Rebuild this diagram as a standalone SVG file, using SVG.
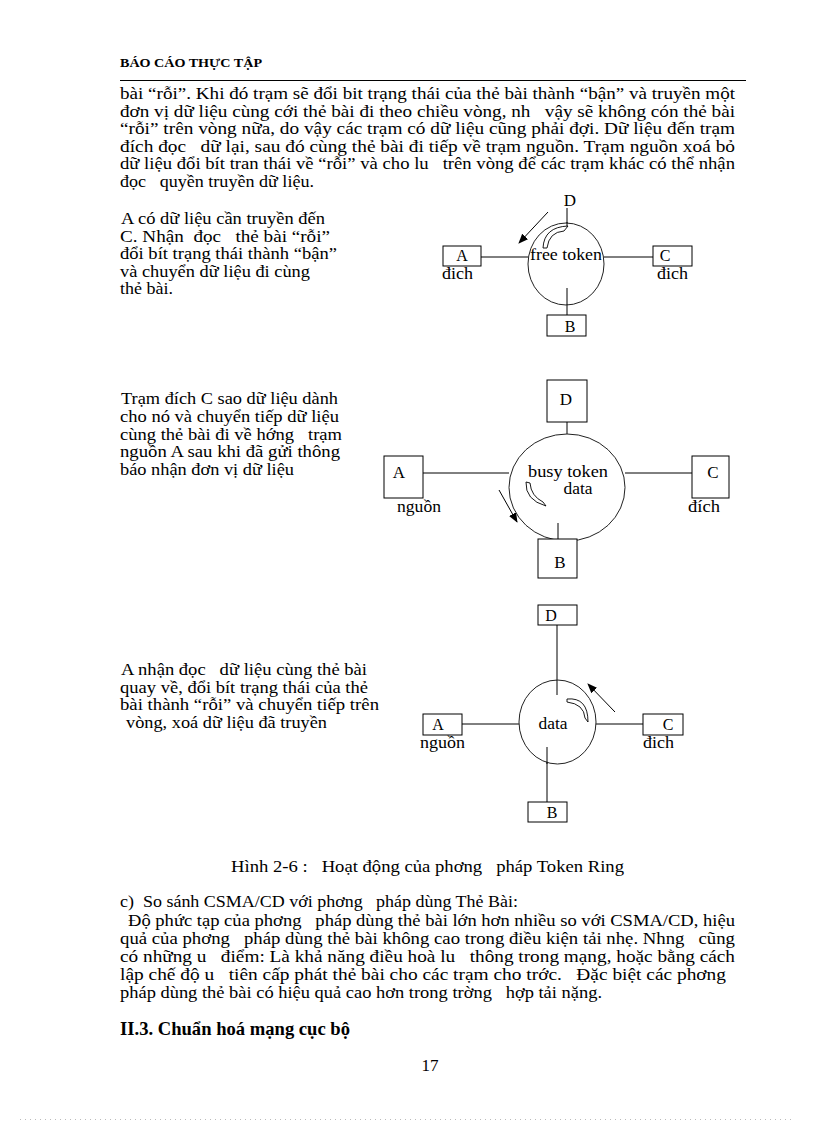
<svg xmlns="http://www.w3.org/2000/svg" width="816" height="1123" viewBox="0 0 816 1123">
<style>
text{font-family:"Liberation Serif","DejaVu Serif",serif;fill:#000;white-space:pre}
.b{font-size:17px}
.l{font-size:17px}
.k{font-size:16px}
.m{text-anchor:middle}
.box{fill:#fff;stroke:#000;stroke-width:1}
.ring{fill:#fff;stroke:#222;stroke-width:1}
.ln{stroke:#000;stroke-width:1;fill:none}
.cres{fill:#fff;stroke:#000;stroke-width:0.9}
</style>
<defs>
<marker id="ah" markerWidth="10" markerHeight="8" refX="9" refY="4" orient="auto" markerUnits="userSpaceOnUse">
<path d="M0,0 L10,4 L0,8 Z" fill="#000"/>
</marker>
</defs>
<rect width="816" height="1123" fill="#fff"/>

<!-- header -->
<text x="120" y="67" font-size="13" font-weight="bold" textLength="142" lengthAdjust="spacingAndGlyphs">BÁO CÁO THỰC TẬP</text>
<line x1="120" y1="80.5" x2="746" y2="80.5" stroke="#000" stroke-width="1"/>

<!-- top paragraph -->
<g class="b">
<text x="120" y="99" textLength="615" lengthAdjust="spacingAndGlyphs">bài “rỗi”. Khi đó trạm sẽ đổi bit trạng thái của thẻ bài thành “bận” và truyền một</text>
<text x="120" y="116.5" textLength="615" lengthAdjust="spacingAndGlyphs">đơn vị dữ liệu cùng cới thẻ bài đi theo chiều vòng, nh   vậy sẽ không cón thẻ bài</text>
<text x="120" y="134" textLength="615" lengthAdjust="spacingAndGlyphs">“rỗi” trên vòng nữa, do vậy các trạm có dữ liệu cũng phải đợi. Dữ liệu đến trạm</text>
<text x="120" y="151.5" textLength="615" lengthAdjust="spacingAndGlyphs">đích đọc   dữ lại, sau đó cùng thẻ bài đi tiếp về trạm nguồn. Trạm nguồn xoá bỏ</text>
<text x="120" y="169" textLength="615" lengthAdjust="spacingAndGlyphs">dữ liệu đổi bít tran thái về “rỗi” và cho lu   trên vòng để các trạm khác có thể nhận</text>
<text x="120" y="186.5" textLength="194" lengthAdjust="spacingAndGlyphs">đọc   quyền truyền dữ liệu.</text>
</g>

<!-- left text block 1 -->
<g class="b">
<text x="121" y="224" textLength="204" lengthAdjust="spacingAndGlyphs">A có dữ liệu cần truyền đến</text>
<text x="120" y="241.5" textLength="210" lengthAdjust="spacingAndGlyphs">C. Nhận  đọc   thẻ bài “rỗi”</text>
<text x="120" y="259" textLength="217" lengthAdjust="spacingAndGlyphs">đổi bít trạng thái thành “bận”</text>
<text x="120" y="276.5" textLength="190" lengthAdjust="spacingAndGlyphs">và chuyển dữ liệu đi cùng</text>
<text x="120" y="294" textLength="53" lengthAdjust="spacingAndGlyphs">thẻ bài.</text>
</g>

<!-- diagram 1 -->
<g id="diagram1">
<g id="d1-connectors">
<line class="ln" x1="481" y1="257" x2="528" y2="257"/>
<line class="ln" x1="604" y1="257" x2="653" y2="257"/>
<line class="ln" x1="567" y1="208" x2="567" y2="226"/>
<line class="ln" x1="567" y1="288" x2="567" y2="315"/>
<line class="ln" x1="548" y1="212" x2="519" y2="243" marker-end="url(#ah)"/>
</g>
<g id="d1-ring">
<ellipse class="ring" cx="566" cy="264" rx="38" ry="41"/>
<line class="ln" x1="567" y1="222" x2="567" y2="227"/>
<line class="ln" x1="567" y1="288" x2="567" y2="305"/>
<path class="cres" d="M543,248 Q544,227 568,226 L564,231 Q549,232 547,248 Z"/>
<text class="l m" x="566" y="260" textLength="72" lengthAdjust="spacingAndGlyphs">free token</text>
</g>
<g id="d1-A"><rect class="box" x="443" y="246" width="38" height="20"/><text class="k m" x="462" y="261">A</text><text class="k" x="442" y="279" textLength="31" lengthAdjust="spacingAndGlyphs">đich</text></g>
<g id="d1-C"><rect class="box" x="653" y="246" width="39" height="20"/><text class="k m" x="665" y="261">C</text><text class="k" x="657" y="279" textLength="31" lengthAdjust="spacingAndGlyphs">đich</text></g>
<g id="d1-D"><text class="l m" x="570" y="206">D</text></g>
<g id="d1-B"><rect class="box" x="547" y="315" width="39" height="21"/><text class="k m" x="570" y="332">B</text></g>
</g>

<!-- left text block 2 -->
<g class="b">
<text x="121" y="404" textLength="217" lengthAdjust="spacingAndGlyphs">Trạm đích C sao dữ liệu dành</text>
<text x="120" y="422" textLength="219" lengthAdjust="spacingAndGlyphs">cho nó và chuyển tiếp dữ liệu</text>
<text x="120" y="439.5" textLength="222" lengthAdjust="spacingAndGlyphs">cùng thẻ bài đi về hớng   trạm</text>
<text x="120" y="457" textLength="220" lengthAdjust="spacingAndGlyphs">nguồn A sau khi đã gửi thông</text>
<text x="120" y="474.5" textLength="174" lengthAdjust="spacingAndGlyphs">báo nhận đơn vị dữ liệu</text>
</g>

<!-- diagram 2 -->
<g id="diagram2">
<g id="d2-connectors">
<line class="ln" x1="423" y1="473" x2="509" y2="473"/>
<line class="ln" x1="625" y1="473" x2="692" y2="473"/>
<line class="ln" x1="567" y1="422" x2="567" y2="434"/>
<line class="ln" x1="558" y1="523" x2="558" y2="539"/>
<line class="ln" x1="499" y1="490" x2="517" y2="522" marker-end="url(#ah)"/>
</g>
<g id="d2-ring">
<ellipse class="ring" cx="567" cy="487.5" rx="58" ry="53.5"/>
<line class="ln" x1="558" y1="523" x2="558" y2="539"/>
<path class="cres" d="M526,482 Q525,500 546,506 L543,502 Q531,496 530,483 Z"/>
<text class="l m" x="568" y="477" textLength="80" lengthAdjust="spacingAndGlyphs">busy token</text>
<text class="l m" x="578" y="494" textLength="29" lengthAdjust="spacingAndGlyphs">data</text>
</g>
<g id="d2-A"><rect class="box" x="384" y="456" width="39" height="42"/><text class="l m" x="399" y="478">A</text><text class="l" x="397" y="512" textLength="44" lengthAdjust="spacingAndGlyphs">nguồn</text></g>
<g id="d2-C"><rect class="box" x="692" y="456" width="37" height="42"/><text class="l m" x="713" y="478">C</text><text class="l" x="688" y="512" textLength="32" lengthAdjust="spacingAndGlyphs">đích</text></g>
<g id="d2-D"><rect class="box" x="547" y="380" width="40" height="42"/><text class="l m" x="566" y="405">D</text></g>
<g id="d2-B"><rect class="box" x="538" y="539" width="39" height="39"/><text class="l m" x="560" y="568">B</text></g>
</g>

<!-- left text block 3 -->
<g class="b">
<text x="121" y="675" textLength="246" lengthAdjust="spacingAndGlyphs">A nhận đọc   dữ liệu cùng thẻ bài</text>
<text x="120" y="692.5" textLength="248" lengthAdjust="spacingAndGlyphs">quay về, đổi bít trạng thái của thẻ</text>
<text x="120" y="710" textLength="259" lengthAdjust="spacingAndGlyphs">bài thành “rỗi” và chuyển tiếp trên</text>
<text x="126" y="727.5" textLength="201" lengthAdjust="spacingAndGlyphs">vòng, xoá dữ liệu đã truyền</text>
</g>

<!-- diagram 3 -->
<g id="diagram3">
<g id="d3-connectors">
<line class="ln" x1="462" y1="724" x2="519" y2="724"/>
<line class="ln" x1="596" y1="724" x2="643" y2="724"/>
<line class="ln" x1="557" y1="625" x2="557" y2="695"/>
<line class="ln" x1="547" y1="747" x2="547" y2="802"/>
<line class="ln" x1="615" y1="712" x2="588" y2="684" marker-end="url(#ah)"/>
</g>
<g id="d3-ring">
<ellipse class="ring" cx="557.5" cy="722" rx="38.5" ry="42"/>
<line class="ln" x1="557" y1="680" x2="557" y2="695"/>
<line class="ln" x1="547" y1="747" x2="547" y2="764"/>
<path class="cres" d="M567,699 Q588,697 588,722 L585,718 Q584,704 567,702 Z"/>
<text class="l m" x="553" y="729" textLength="29" lengthAdjust="spacingAndGlyphs">data</text>
</g>
<g id="d3-A"><rect class="box" x="423" y="714" width="39" height="21"/><text class="k m" x="438" y="729.5">A</text><text class="k" x="420" y="748" textLength="45" lengthAdjust="spacingAndGlyphs">nguồn</text></g>
<g id="d3-C"><rect class="box" x="643" y="714" width="40" height="21"/><text class="k m" x="668" y="729.5">C</text><text class="k" x="643" y="748" textLength="31" lengthAdjust="spacingAndGlyphs">đich</text></g>
<g id="d3-D"><rect class="box" x="538" y="605" width="39" height="20"/><text class="k m" x="551" y="620.5">D</text></g>
<g id="d3-B"><rect class="box" x="528" y="802" width="39" height="20"/><text class="k m" x="552" y="818">B</text></g>
</g>

<!-- caption and body -->
<g class="b">
<text x="231" y="872" textLength="393" lengthAdjust="spacingAndGlyphs">Hình 2-6 :   Hoạt động của phơng   pháp Token Ring</text>
<text x="120" y="907" textLength="398" lengthAdjust="spacingAndGlyphs">c)  So sánh CSMA/CD với phơng   pháp dùng Thẻ Bài:</text>
<text x="128" y="926" textLength="607" lengthAdjust="spacingAndGlyphs">Độ phức tạp của phơng   pháp dùng thẻ bài lớn hơn nhiều so với CSMA/CD, hiệu</text>
<text x="120" y="944" textLength="615" lengthAdjust="spacingAndGlyphs">quả của phơng   pháp dùng thẻ bài không cao trong điều kiện tải nhẹ. Nhng   cũng</text>
<text x="120" y="962" textLength="615" lengthAdjust="spacingAndGlyphs">có những u   điểm: Là khả năng điều hoà lu   thông trong mạng, hoặc bằng cách</text>
<text x="120" y="980" textLength="606" lengthAdjust="spacingAndGlyphs">lập chế độ u   tiên cấp phát thẻ bài cho các trạm cho trớc.   Đặc biệt các phơng</text>
<text x="120" y="998" textLength="482" lengthAdjust="spacingAndGlyphs">pháp dùng thẻ bài có hiệu quả cao hơn trong trờng   hợp tải nặng.</text>
</g>
<text x="120" y="1035" font-size="18" font-weight="bold" textLength="230" lengthAdjust="spacingAndGlyphs">II.3. Chuẩn hoá mạng cục bộ</text>
<text x="430" y="1071" font-size="17" text-anchor="middle">17</text>

<line x1="20" y1="1119.5" x2="792" y2="1119.5" stroke="#bbb" stroke-width="1" stroke-dasharray="1,4"/>
</svg>
